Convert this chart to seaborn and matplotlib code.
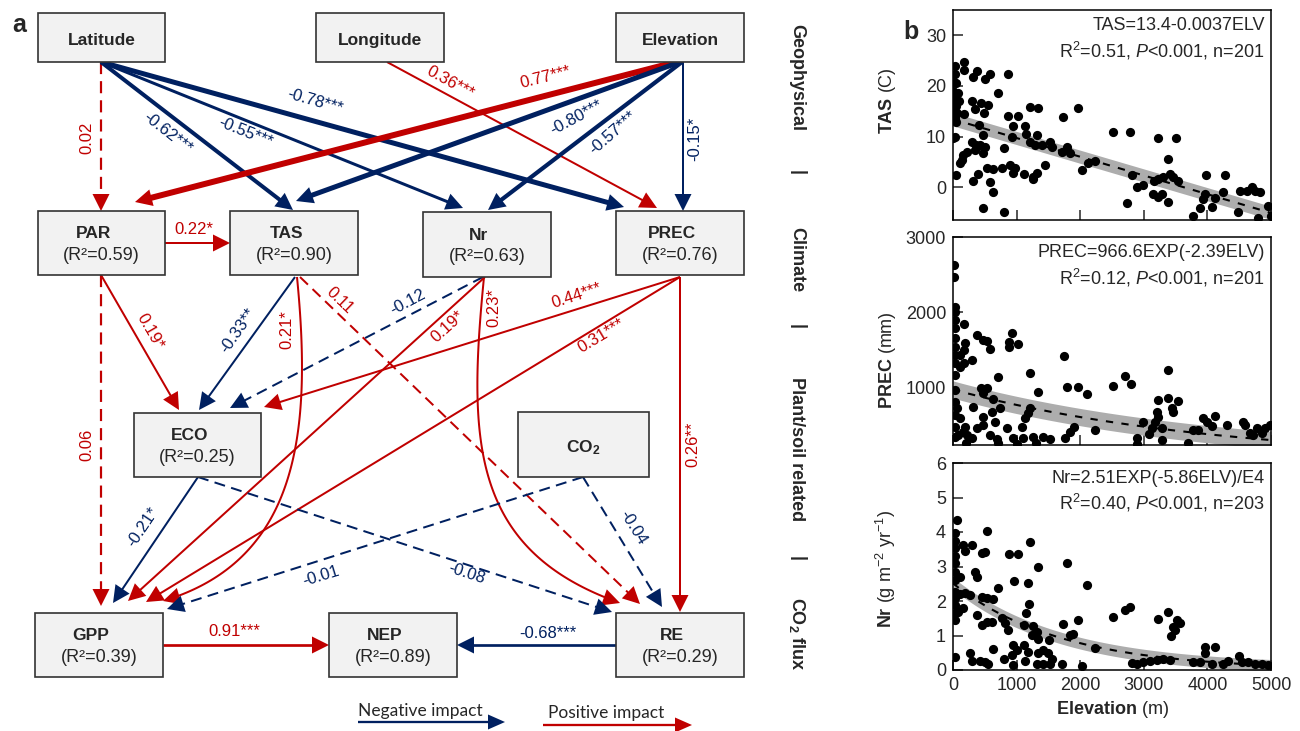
import numpy as np
import pandas as pd
import seaborn as sns
import matplotlib.pyplot as plt
from matplotlib.patches import Rectangle, Polygon

sns.set_style("ticks")
plt.rcParams['font.family'] = ['Liberation Sans', 'DejaVu Sans']
plt.rcParams['mathtext.fontset'] = 'custom'
plt.rcParams['mathtext.rm'] = 'Liberation Sans'
plt.rcParams['mathtext.it'] = 'Liberation Sans:italic'
plt.rcParams['mathtext.bf'] = 'Liberation Sans:bold'

RED = '#c00000'
BLUE = '#002060'

# ---------------- panel a: path model ----------------
nodes = ['Latitude', 'Longitude', 'Elevation', 'PAR', 'TAS', 'Nr', 'PREC',
         'ECO', 'CO2', 'GPP', 'NEP', 'RE']
node_r2 = [None, None, None, 0.59, 0.90, 0.63, 0.76, 0.25, None, 0.39, 0.89, 0.29]

path_from = ['Latitude', 'Latitude', 'Latitude', 'Latitude', 'Longitude',
             'Elevation', 'Elevation', 'Elevation', 'Elevation',
             'PAR', 'PAR', 'PAR', 'TAS', 'TAS', 'TAS', 'Nr', 'Nr', 'Nr',
             'PREC', 'PREC', 'PREC', 'ECO', 'ECO', 'CO2', 'CO2', 'GPP', 'RE']
path_to = ['PAR', 'TAS', 'Nr', 'PREC', 'PREC', 'PAR', 'TAS', 'Nr', 'PREC',
           'TAS', 'ECO', 'GPP', 'ECO', 'GPP', 'RE', 'ECO', 'GPP', 'RE',
           'ECO', 'GPP', 'RE', 'GPP', 'RE', 'GPP', 'RE', 'NEP', 'NEP']
path_coef = [0.02, -0.62, -0.55, -0.78, 0.36, 0.77, -0.80, -0.57, -0.15,
             0.22, 0.19, 0.06, -0.33, 0.21, 0.11, -0.12, 0.19, 0.23,
             0.44, 0.31, 0.26, -0.21, -0.08, -0.01, -0.04, 0.91, -0.68]
path_sig = ['', '***', '***', '***', '***', '***', '***', '***', '*',
            '*', '*', '', '**', '*', '', '', '*', '*',
            '***', '***', '**', '*', '', '', '', '***', '***']

# ---------------- panel b: scatter data ----------------
tas_elev = [173, 173, 31, 31, 372, 320, 503, 582, 870, 713, 294, 435, 556, 487, 346, 173, 414, 477,
            1211, 1342, 870, 1027, 949, 1132, 923, 1148, 1326, 1211, 1289, 1394, 1525, 1551, 1735,
            1788, 1709, 1840, 1971, 2128, 2233, 2023, 2510, 2783, 2809, 2731, 2888, 2992, 3228, 3506,
            3385, 3160, 3228, 3306, 3150, 3228, 3280, 3411, 3464, 3542, 3385, 3778, 3883, 3935, 3961,
            3977, 4066, 4118, 4276, 4250, 4512, 4617, 4696, 4748, 4827, 4486, 4800, 4958, 5000,
            31, 55, 320, 398, 294, 361, 424, 503, 477, 346, 215, 162, 136, 110, 529, 624, 765, 896,
            975, 949, 1116, 797, 582, 634, 477, 797, 1263, 1326, 1253, 1446,
            0, 20, 40, 10, 60, 30, 80, 50, 0, 15, 100, 5, 25, 45, 5]
tas_val = [24.7, 23.1, 24.0, 22.3, 23.0, 21.7, 21.3, 22.3, 22.3, 18.5, 17.1, 16.7, 16.3, 14.7, 15.5, 14.5, 12.3, 10.3,
           15.9, 15.7, 14.0, 14.0, 12.0, 12.0, 9.9, 10.5, 10.3, 9.0, 8.3, 8.3, 9.0, 8.0, 13.9,
           8.0, 7.0, 6.7, 15.7, 4.7, 5.1, 3.3, 10.9, 10.9, 2.3, -3.2, 0.0, 0.5, 9.7, 9.7,
           5.5, 1.3, 1.7, 2.0, -1.3, -2.0, -1.3, 2.5, 2.0, 1.3, -2.9, -5.7, -4.2, -2.3, -1.3,
           2.3, -4.0, -2.2, 2.3, -1.0, -0.7, -0.7, 0.0, -0.7, -1.0, -5.0, -6.2, -3.7, -5.7,
           10.0, 2.3, 1.3, 2.5, 9.0, 8.3, 8.3, 8.0, 6.7, 7.3, 7.0, 6.3, 5.3, 4.7, 3.8, 3.5, 3.7, 4.3,
           3.8, 2.7, 2.5, 7.8, 1.0, -0.9, -4.2, -5.0, 2.0, 2.7, 1.7, 4.3,
           19.0, 17.5, 16.0, 15.5, 14.7, 13.5, 18.5, 20.5, 21.0, 18.2, 17.0, 16.8, 14.0, 12.8, 9.7]

prec_elev = [16, 16, 31, 31, 31, 31, 31, 31, 31, 31, 31, 31, 31, 31, 31, 31,
             173, 383, 466, 540, 577, 922, 886, 886, 1027, 189, 173, 110, 294, 173, 110,
             713, 1211, 1745, 440, 540, 477, 634, 1342, 1788, 1971, 2102, 2521, 2704, 2798,
             3385, 3228, 3385, 3542, 3437, 3464, 3202, 3228, 3176, 3123, 3280, 3086, 2888, 3280, 2992,
             3935, 4118, 3987, 4066, 3778, 3856, 4302, 4554, 4591, 4774, 4905, 4984, 4669, 4722, 4853,
             2233, 1898, 1840, 1762, 1211, 1185, 1132, 1080, 739, 608, 320, 477, 660, 372, 477,
             189, 162, 215, 582, 844, 949, 1106, 1263, 1421, 1525, 58, 110, 85, 294, 687,
             200, 700, 1000, 1300, 2900, 3700]
prec_val = [2627, 2471, 2071, 2004, 1893, 1782, 1649, 1538, 1427, 1316, 1160, 960, 804, 627, 471, 338,
            1836, 1693, 1627, 1613, 1507, 1716, 1596, 1538, 1569, 1582, 1493, 1427, 1360, 1316, 1271,
            1138, 1182, 1418, 982, 982, 916, 836, 938, 1004, 1004, 902, 1018, 1147, 1040,
            1227, 827, 849, 818, 716, 671, 671, 604, 538, 458, 458, 369, 324, 293, 529,
            591, 613, 538, 480, 427, 427, 493, 538, 493, 449, 449, 493, 382, 360, 382,
            427, 471, 404, 324, 716, 649, 582, 471, 716, 671, 738, 604, 538, 449, 493,
            471, 404, 360, 360, 449, 316, 316, 338, 338, 307, 716, 582, 360, 316, 307,
            250, 255, 245, 250, 240, 255]

nr_elev = [68, 31, 31, 162, 31, 31, 31, 31, 31, 31, 31, 31, 31, 31, 31,
           294, 189, 451, 503, 540, 346, 372, 110, 110, 189, 268, 451, 540, 624, 713,
           162, 84, 372, 451, 529, 608, 886, 1027, 1211, 1332, 959, 1185, 1195, 1148,
           765, 818, 870, 1116, 1263, 1316, 1237, 1342, 1515, 1788, 1735, 1840, 1893, 1971,
           2112, 2233, 2510, 2704, 2783, 3228, 3385, 3516, 3568, 3464, 3422, 3490, 3961, 4118, 3961,
           634, 949, 1001, 923, 1116, 1185, 1342, 1421, 1500, 1551, 268, 294, 424, 503, 556,
           797, 949, 1132, 1316, 1421, 1527, 1709, 2034, 2809, 2888, 2992, 3097, 3202, 3306, 3411,
           3778, 3883, 4066, 4250, 4328, 4501, 4538, 4643, 4748, 4853, 4958]
nr_val = [4.36, 3.97, 3.73, 3.63, 3.53, 3.29, 3.10, 2.85, 2.61, 2.27, 2.08, 1.88, 1.64, 1.45, 0.38,
          3.63, 3.44, 3.39, 3.42, 4.02, 2.85, 2.71, 2.71, 2.19, 2.22, 2.17, 2.13, 2.08, 2.06, 2.39,
          1.79, 1.69, 1.59, 1.30, 1.40, 1.38, 3.36, 3.36, 3.71, 3.00, 2.59, 2.51, 1.90, 1.64,
          1.50, 1.35, 1.16, 1.30, 1.28, 1.11, 1.01, 0.91, 0.86, 3.10, 1.33, 1.01, 1.03, 1.45,
          2.45, 0.64, 1.54, 1.74, 1.82, 1.48, 1.69, 1.45, 1.35, 1.25, 0.99, 1.16, 0.67, 0.67, 0.48,
          0.62, 0.72, 0.57, 0.43, 0.72, 0.52, 0.48, 0.57, 0.48, 0.33, 0.50, 0.25, 0.25, 0.23, 0.18,
          0.33, 0.14, 0.25, 0.18, 0.18, 0.18, 0.18, 0.12, 0.20, 0.18, 0.23, 0.25, 0.30, 0.31, 0.30,
          0.23, 0.23, 0.18, 0.18, 0.25, 0.41, 0.23, 0.23, 0.18, 0.18, 0.14]

# fitted models as printed in the panels: (kind, a, b, band half-width)
fit_tas = ('lin', 13.4, -0.0037, 1.3)
fit_prec = ('exp', 966.6, -2.39, 115)
fit_nr = ('exp', 2.51, -5.86, 0.17)

# ---------------- layout (pixels) ----------------
boxes = {
    'Latitude': (38, 13, 165, 62), 'Longitude': (316, 13, 444, 62), 'Elevation': (616, 13, 744, 62),
    'PAR': (38, 211, 165, 275), 'TAS': (230, 211, 358, 275), 'Nr': (423, 212, 551, 277),
    'PREC': (616, 211, 744, 275), 'ECO': (134, 413, 261, 477), 'CO2': (518, 412, 649, 477),
    'GPP': (35, 613, 163, 677), 'NEP': (329, 613, 457, 677), 'RE': (616, 613, 744, 677),
}
# start, end, bezier controls, width(px), label position, label rotation
geom = [
    ((101, 62), (101, 211), None, 2.2, (87, 138), 90),
    ((101, 62), (293, 210), None, 4.0, (168, 133), -38),
    ((101, 62), (463, 208), None, 3.0, (245, 133), -22),
    ((101, 62), (624, 207), None, 5.0, (315, 102), -16),
    ((387, 62), (657, 208), None, 2.0, (450, 83), -29),
    ((676, 62), (135, 202), None, 6.0, (545, 77), 14),
    ((680, 62), (296, 201), None, 5.0, (576, 118), 28),
    ((682, 62), (488, 210), None, 4.2, (613, 133), 41),
    ((683, 62), (683, 211), None, 2.0, (695, 139), 90),
    ((165, 243), (230, 243), None, 2.0, (194, 230), 0),
    ((101, 275), (179, 410), None, 2.0, (150, 332), -60),
    ((101, 275), (101, 606), None, 2.2, (87, 445), 90),
    ((295, 277), (199, 410), None, 2.0, (238, 331), 55),
    ((297, 277), (163, 601), [(312, 430), (300, 560)], 2.0, (287, 330), 90),
    ((300, 277), (640, 604), None, 2.0, (340, 301), -44),
    ((483, 277), (230, 408), None, 2.0, (408, 302), 28),
    ((485, 277), (128, 601), None, 2.0, (448, 327), 42),
    ((484, 277), (620, 603), [(468, 440), (470, 550)], 2.0, (494, 308), 90),
    ((680, 277), (264, 407), None, 2.0, (577, 296), 18),
    ((680, 277), (146, 602), None, 2.0, (601, 336), 31),
    ((680, 277), (680, 612), None, 2.0, (693, 444), 90),
    ((198, 477), (113, 603), None, 2.0, (143, 527), 56),
    ((198, 477), (612, 612), None, 2.0, (467, 574), -18),
    ((583, 477), (167, 609), None, 2.0, (321, 576), 17),
    ((583, 477), (662, 607), None, 2.0, (633, 528), -58),
    ((163, 645), (329, 645), None, 2.7, (234, 631), 0),
    ((616, 645), (457, 645), None, 2.7, (548, 633), 0),
]


def draw_arrow(ax, p0, p1, ctrl, color, lw_px, dashed, head_len=17, head_w=8.5):
    p0 = np.array(p0, float)
    p1 = np.array(p1, float)
    if ctrl is None:
        d = p1 - p0
    else:
        c1, c2 = np.array(ctrl[0], float), np.array(ctrl[1], float)
        t = np.linspace(0, 1, 100)[:, None]
        curve = (1 - t) ** 3 * p0 + 3 * (1 - t) ** 2 * t * c1 + 3 * (1 - t) * t ** 2 * c2 + t ** 3 * p1
        d = p1 - c2
    d = d / np.hypot(*d)
    stop = p1 - d * head_len * 0.6
    if ctrl is None:
        pts = np.array([p0, stop])
    else:
        keep = np.hypot(*(curve - p1).T) > head_len * 0.6
        pts = np.vstack([curve[keep], stop])
    ls = (0, (5.5, 3.2)) if dashed else '-'
    ax.plot(pts[:, 0], pts[:, 1], color=color, lw=lw_px * 0.72, ls=ls,
            solid_capstyle='butt', dash_capstyle='butt', zorder=2)
    n = np.array([-d[1], d[0]])
    base = p1 - d * head_len
    tri = np.array([p1, base + n * head_w, base - n * head_w])
    ax.add_patch(Polygon(tri, closed=True, facecolor=color, edgecolor='none', zorder=2))


fig = plt.figure(figsize=(13, 7.31), dpi=100)
axd = fig.add_axes([0, 0, 1, 1])
axd.set_xlim(0, 1300)
axd.set_ylim(731, 0)
axd.axis('off')

for name, r2 in zip(nodes, node_r2):
    x0, y0, x1, y1 = boxes[name]
    axd.add_patch(Rectangle((x0, y0), x1 - x0, y1 - y0, facecolor='#f2f2f2',
                            edgecolor='#333333', lw=1.2, zorder=3))
    cx, cy = (x0 + x1) / 2, (y0 + y1) / 2
    label = r'CO$_\mathbf{2}$' if name == 'CO2' else name
    if r2 is None:
        axd.text(cx, cy + 3, label, fontsize=12.5, weight='bold', ha='center', va='center', zorder=4)
    else:
        axd.text(cx - 8, cy - 9, label, fontsize=12.5, weight='bold', ha='center', va='center', zorder=4)
        axd.text(cx, cy + 12, f'(R²={r2:.2f})', fontsize=13, ha='center', va='center', zorder=4)

for coef, sig, g in zip(path_coef, path_sig, geom):
    p0, p1, ctrl, w, lpos, rot = g
    color = RED if coef > 0 else BLUE
    draw_arrow(axd, p0, p1, ctrl, color, w, dashed=(sig == ''))
    axd.text(lpos[0], lpos[1], f'{coef:.2f}{sig}', color=color, fontsize=12, rotation=rot,
             rotation_mode='anchor', ha='center', va='center', zorder=4)

# level labels on the right
for txt, y in [('Geophysical', 78), ('|', 173), ('Climate', 260), ('|', 327),
               ('Plant/soil related', 449), ('|', 558), (r'CO$_\mathbf{2}$ flux', 634)]:
    axd.text(797, y, txt, fontsize=13, weight='bold', rotation=270, ha='center', va='center')

# legend
draw_arrow(axd, (358, 722), (505, 722), None, BLUE, 2.3, False, head_len=17, head_w=7.5)
draw_arrow(axd, (543, 725), (692, 725), None, RED, 2.3, False, head_len=17, head_w=7.5)
axd.text(358, 711, 'Negative impact', fontsize=12.5, family=['Lato', 'DejaVu Sans'], ha='left', va='center')
axd.text(548, 713, 'Positive impact', fontsize=12.5, family=['Lato', 'DejaVu Sans'], ha='left', va='center')

axd.text(19, 25, 'a', fontsize=18, weight='bold', ha='center', va='center')
axd.text(911, 32, 'b', fontsize=18, weight='bold', ha='center', va='center')

# ---------------- panel b ----------------
left, width = 953 / 1300, 318 / 1300
panel_rows = [(10, 220), (237, 445), (463, 670)]
panels = [
    (tas_elev, tas_val, fit_tas, (-6.5, 35), [0, 10, 20, 30], r'$\mathbf{TAS}$ (C)', 0.571,
     'TAS=13.4-0.0037ELV', r'R$^2$=0.51, $\mathit{P}$<0.001, n=201'),
    (prec_elev, prec_val, fit_prec, (227, 3000), [1000, 2000, 3000], r'$\mathbf{PREC}$ (mm)', 0.409,
     'PREC=966.6EXP(-2.39ELV)', r'R$^2$=0.12, $\mathit{P}$<0.001, n=201'),
    (nr_elev, nr_val, fit_nr, (0, 6), [0, 1, 2, 3, 4, 5, 6],
     r'$\mathbf{Nr}$ (g m$^{-2}$ yr$^{-1}$)', 0.49,
     'Nr=2.51EXP(-5.86ELV)/E4', r'R$^2$=0.40, $\mathit{P}$<0.001, n=203'),
]

xs = np.linspace(0, 5000, 200)
for i, ((top, bot), (ex, ev, fit, ylim, yt, ylab, ly, eq, stat)) in enumerate(zip(panel_rows, panels)):
    ax = fig.add_axes([left, (731 - bot) / 731, width, (bot - top) / 731])
    kind, a, b, half = fit
    ys = a + b * xs if kind == 'lin' else a * np.exp(b * xs / 1e4)
    ax.fill_between(xs, ys - half, ys + half, color='#adadad', lw=0, zorder=1)
    df = pd.DataFrame({'elev': ex, 'val': ev})
    sns.scatterplot(data=df, x='elev', y='val', ax=ax, color='black', s=44, linewidth=0, zorder=3)
    sns.lineplot(x=xs, y=ys, ax=ax, color='black', lw=1.5, linestyle=(0, (3.5, 4)), zorder=2)
    ax.set_xlim(0, 5000)
    ax.set_ylim(*ylim)
    ax.set_yticks(yt)
    ax.set_xticks([0, 1000, 2000, 3000, 4000, 5000])
    ax.tick_params(direction='in', length=7, width=1.1, labelsize=13, pad=5)
    for sp in ax.spines.values():
        sp.set_linewidth(1.1)
        sp.set_color('black')
    ax.set_ylabel(ylab, fontsize=13)
    ax.yaxis.set_label_coords(-0.173, ly)
    if i < 2:
        ax.set_xlabel('')
        ax.set_xticklabels([])
    else:
        ax.set_xlabel(r'$\mathbf{Elevation}$ (m)', fontsize=13, labelpad=4)
    ax.text(0.981, 0.924, eq, transform=ax.transAxes, ha='right', va='center', fontsize=13)
    ax.text(0.981, 0.805, stat, transform=ax.transAxes, ha='right', va='center', fontsize=13)

fig.savefig('out.png', dpi=100)
